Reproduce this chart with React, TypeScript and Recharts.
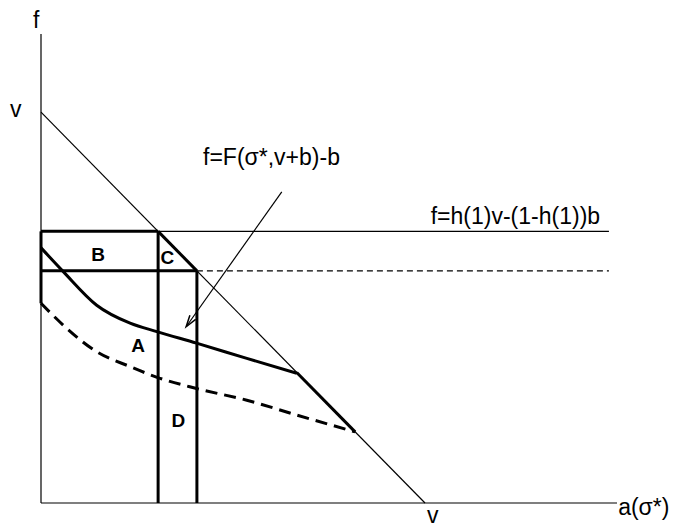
import { ComposedChart, Line, XAxis, YAxis, ReferenceDot, ReferenceLine } from 'recharts'

// f (vertical) against a(σ*) (horizontal), v normalised to 1
const xAxisLine = [{ a: 0, f: 0 }, { a: 1.5, f: 0 }]
const yAxisLine = [{ a: 0, f: 0 }, { a: 0, f: 1.2 }]

const diagonal = [{ a: 0, f: 1 }, { a: 1, f: 0 }]
const upperLevel = [{ a: 0, f: 0.695 }, { a: 1.479, f: 0.695 }]
const lowerLevel = [{ a: 0.406, f: 0.594 }, { a: 1.479, f: 0.594 }]

const boxTop = [{ a: 0, f: 0.695 }, { a: 0.305, f: 0.695 }]
const boxBottom = [{ a: 0, f: 0.594 }, { a: 0.406, f: 0.594 }]
const boxLeft = [{ a: 0, f: 0.695 }, { a: 0, f: 0.511 }]
const boxSlope = [{ a: 0.305, f: 0.695 }, { a: 0.406, f: 0.594 }]
const firstDrop = [{ a: 0.305, f: 0.695 }, { a: 0.305, f: 0 }]
const secondDrop = [{ a: 0.406, f: 0.594 }, { a: 0.406, f: 0 }]

const solidCurve = [
  { a: 0, f: 0.653 },
  { a: 0.058, f: 0.592 },
  { a: 0.145, f: 0.506 },
  { a: 0.232, f: 0.46 },
  { a: 0.304, f: 0.438 },
  { a: 0.405, f: 0.409 },
  { a: 0.536, f: 0.37 },
  { a: 0.666, f: 0.332 },
]
const solidTail = [{ a: 0.666, f: 0.334 }, { a: 0.818, f: 0.182 }]

const dashedCurve = [
  { a: 0, f: 0.511 },
  { a: 0.058, f: 0.455 },
  { a: 0.145, f: 0.387 },
  { a: 0.232, f: 0.349 },
  { a: 0.304, f: 0.321 },
  { a: 0.405, f: 0.293 },
  { a: 0.536, f: 0.263 },
  { a: 0.666, f: 0.225 },
  { a: 0.818, f: 0.182 },
]

const arrowFrom = { a: 0.627, f: 0.796 }
const arrowTo = { a: 0.378, f: 0.451 }

const labels = [
  { a: -0.021, f: 1.215, text: 'f', anchor: 'start', bold: false },
  { a: -0.081, f: 0.987, text: 'v', anchor: 'start', bold: false },
  { a: 0.422, f: 0.864, text: 'f=F(σ*,v+b)-b', anchor: 'start', bold: false },
  { a: 1.456, f: 0.715, text: 'f=h(1)v-(1-h(1))b', anchor: 'end', bold: false },
  { a: 1.503, f: -0.031, text: 'a(σ*)', anchor: 'start', bold: false },
  { a: 1.02, f: -0.051, text: 'v', anchor: 'middle', bold: false },
  { a: 0.149, f: 0.636, text: 'B', anchor: 'middle', bold: true },
  { a: 0.329, f: 0.629, text: 'C', anchor: 'middle', bold: true },
  { a: 0.253, f: 0.403, text: 'A', anchor: 'middle', bold: true },
  { a: 0.358, f: 0.212, text: 'D', anchor: 'middle', bold: true },
]

const font = '"Liberation Sans", Arial, sans-serif'

function Arrow(props: any) {
  const { x1, y1, x2, y2 } = props
  const ang = Math.atan2(y2 - y1, x2 - x1)
  const len = 12
  const spread = 0.3
  const p1x = x2 - len * Math.cos(ang - spread)
  const p1y = y2 - len * Math.sin(ang - spread)
  const p2x = x2 - len * Math.cos(ang + spread)
  const p2y = y2 - len * Math.sin(ang + spread)
  return (
    <g>
      <line x1={x1} y1={y1} x2={x2} y2={y2} stroke="#000" strokeWidth={1.2} />
      <path d={`M${p1x},${p1y} L${x2},${y2} L${p2x},${p2y}`} fill="none" stroke="#000" strokeWidth={1.5} />
    </g>
  )
}

function seg(key: string, data: any[], width: number, dash?: string, curve = false) {
  return (
    <Line
      key={key}
      data={data}
      dataKey="f"
      type={curve ? 'monotone' : 'linear'}
      stroke="#000"
      strokeWidth={width}
      strokeDasharray={dash}
      dot={false}
      activeDot={false}
      isAnimationActive={false}
    />
  )
}

export default function App() {
  return (
    <div style={{ position: 'absolute', left: 0, top: 0, background: '#fff' }}>
      <ComposedChart width={680} height={532} margin={{ top: 34, right: 63, bottom: 29, left: 41 }}>
        <XAxis type="number" dataKey="a" domain={[0, 1.5]} hide />
        <YAxis type="number" domain={[0, 1.2]} hide />
        {seg('xAxis', xAxisLine, 1.2)}
        {seg('yAxis', yAxisLine, 1.2)}
        {seg('diag', diagonal, 1.2)}
        {seg('upper', upperLevel, 1.2)}
        {seg('lower', lowerLevel, 1.2, '6 4')}
        {seg('boxTop', boxTop, 3)}
        {seg('boxBottom', boxBottom, 3)}
        {seg('boxLeft', boxLeft, 3)}
        {seg('boxSlope', boxSlope, 3)}
        {seg('drop1', firstDrop, 3)}
        {seg('drop2', secondDrop, 3)}
        {seg('solid', solidCurve, 3, undefined, true)}
        {seg('solidTail', solidTail, 3)}
        {seg('dashed', dashedCurve, 3, '12 7', true)}
        <ReferenceLine
          segment={[arrowFrom, arrowTo].map((p) => ({ x: p.a, y: p.f }))}
          shape={Arrow}
          ifOverflow="visible"
        />
        {labels.map((l, i) => (
          <ReferenceDot
            key={i}
            x={l.a}
            y={l.f}
            ifOverflow="visible"
            shape={(p: any) => (
              <text
                x={p.cx}
                y={p.cy}
                textAnchor={l.anchor}
                dominantBaseline={l.bold ? 'central' : 'alphabetic'}
                fontFamily={font}
                fontSize={l.bold ? 19 : 23}
                fontWeight={l.bold ? 'bold' : 'normal'}
                fill="#000"
              >
                {l.text}
              </text>
            )}
          />
        ))}
      </ComposedChart>
    </div>
  )
}
